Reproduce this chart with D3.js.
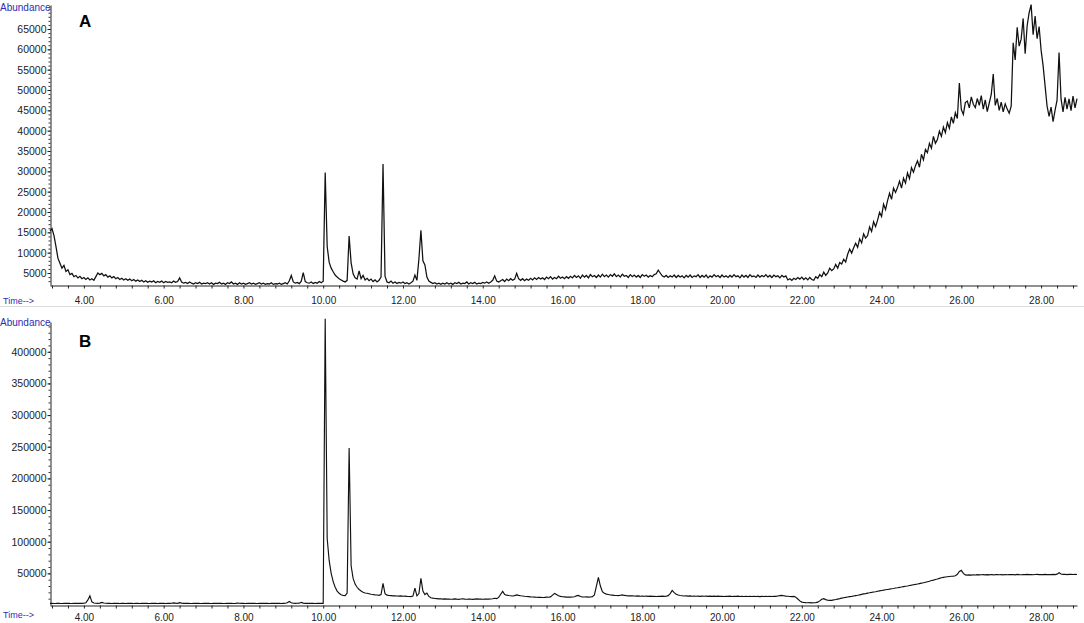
<!DOCTYPE html>
<html>
<head>
<meta charset="utf-8">
<script src="https://cdn.jsdelivr.net/npm/d3@7"></script>
<style>
  html, body { margin: 0; padding: 0; background: #fff; }
  svg { display: block; font-family: "Liberation Sans", Arial, sans-serif; }
</style>
</head>
<body>
<svg id="chart" width="1084" height="623"></svg>
<script>
// ---- Data (retention time in minutes, sampled every 0.05 min; abundance in thousands) ----
const timeStart = 3.15;
const timeStep = 0.05;

// Chromatogram A
const abundanceA_k = [
  15.3,15.9,14.2,11.5,8.6,7.4,6.2,6.9,5.4,5.8,4.6,4.9,4.1,4.4,3.8,4.2,3.6,3.9,3.4,3.8,
  3.3,3.6,3.2,4.1,5.0,4.6,4.9,4.3,4.6,4.0,4.3,3.8,4.1,3.6,3.9,3.4,3.7,3.3,3.6,3.2,
  3.5,3.1,3.4,3.0,3.3,2.9,3.2,2.8,3.1,2.7,3.0,2.8,3.1,2.6,2.9,2.7,3.0,2.6,2.9,2.7,
  2.8,2.6,3.0,2.7,2.9,3.8,2.8,2.5,2.7,2.4,2.8,2.5,2.3,2.6,2.4,2.7,2.3,2.5,2.4,2.6,
  2.3,2.6,2.2,2.5,2.4,2.7,2.3,2.5,2.2,2.6,2.4,2.8,2.3,2.5,2.2,2.6,2.3,2.5,2.2,2.4,
  2.6,2.3,2.5,2.2,2.4,2.6,2.3,2.5,2.2,2.4,2.3,2.6,2.2,2.4,2.3,2.5,2.2,2.4,2.6,2.3,
  3.1,4.4,2.8,2.5,2.7,2.4,3.0,5.1,2.9,2.6,2.5,2.8,2.4,2.7,2.5,2.9,2.6,3.0,29.7,11.5,
  7.6,6.2,5.3,4.5,4.0,3.6,3.3,3.0,2.8,3.2,14.1,7.5,4.8,3.8,3.5,5.5,3.6,4.4,3.3,3.7,
  3.1,3.5,2.9,3.3,2.8,3.2,4.0,31.8,4.2,2.8,2.6,3.0,2.5,2.8,2.4,2.7,2.5,2.8,2.4,2.6,
  2.3,2.6,3.0,4.5,3.2,8.5,15.5,8.0,7.0,4.0,3.0,2.7,2.4,2.6,2.3,2.5,2.2,2.5,2.3,2.6,
  2.3,2.5,2.2,2.6,2.4,2.7,2.3,2.5,2.4,2.8,2.3,2.6,2.4,2.7,2.3,2.5,2.4,2.7,2.5,2.8,
  2.5,2.8,3.2,4.3,3.0,2.8,3.1,3.4,2.9,3.5,3.1,3.6,3.2,3.5,4.9,3.6,3.2,3.6,3.1,3.5,
  3.2,3.7,3.3,3.8,3.4,3.9,3.5,3.8,3.4,4.0,3.6,4.1,3.5,3.9,3.6,4.2,3.7,4.0,3.6,4.1,
  3.7,4.2,3.8,4.4,3.9,4.3,3.7,4.5,4.0,4.4,3.8,4.6,4.1,4.4,3.9,4.5,4.0,4.7,4.1,4.5,
  4.0,4.6,4.2,4.8,4.1,4.5,4.0,4.7,4.2,4.4,3.9,4.6,4.1,4.5,4.0,4.4,3.9,4.6,4.2,4.5,
  4.0,4.4,4.1,4.6,4.8,5.7,5.0,4.3,4.0,4.4,3.9,4.3,4.0,4.5,3.9,4.4,4.0,4.3,3.8,4.4,
  4.0,4.5,3.9,4.3,4.1,4.6,3.9,4.4,4.0,4.5,3.8,4.3,4.0,4.6,4.1,4.4,3.9,4.5,4.0,4.3,
  3.9,4.4,4.0,4.6,4.1,4.3,3.8,4.5,4.0,4.4,3.9,4.6,4.1,4.3,3.9,4.5,4.0,4.4,4.1,4.6,
  4.0,4.4,3.9,4.5,4.1,4.3,3.8,4.4,4.0,4.3,3.3,3.6,3.2,3.7,3.4,3.9,3.5,4.0,3.4,3.8,
  3.3,3.9,3.4,3.2,4.1,3.7,4.6,4.1,5.2,4.4,5.0,6.2,5.6,6.0,7.1,6.2,7.6,7.2,8.4,7.7,
  9.6,10.9,9.9,11.2,12.3,11.3,13.4,12.4,14.6,13.6,14.2,16.3,15.2,17.6,16.4,18.0,19.9,18.9,21.9,20.6,
  22.8,24.6,23.1,25.9,24.8,26.0,27.6,25.9,28.3,27.1,29.6,28.2,30.9,29.8,31.4,32.6,31.0,34.2,32.8,35.4,
  34.6,36.9,35.7,38.6,36.9,37.8,39.9,38.6,40.9,39.5,42.0,40.6,43.4,41.8,44.4,43.0,51.7,45.2,44.0,46.9,
  47.3,45.6,48.3,46.5,45.7,47.9,46.2,48.6,45.3,47.6,44.7,46.8,48.9,53.9,46.2,47.9,45.0,47.0,44.6,46.6,
  45.3,44.3,46.0,61.6,57.4,65.4,60.8,62.5,67.6,58.9,65.8,69.0,71.0,63.6,68.2,62.6,65.6,59.8,56.0,51.0,
  46.0,43.5,45.8,42.2,45.0,47.5,59.2,47.8,44.6,48.2,45.3,47.8,44.9,48.5,45.6,47.9
];

// Chromatogram B
const abundanceB_k = [
  2.5,2.6,2.4,2.5,2.7,2.5,2.4,2.6,2.5,2.8,2.5,2.4,2.6,2.5,2.7,2.5,2.6,2.9,3.5,8.0,
  14.5,5.0,3.2,2.8,2.6,3.0,4.0,3.1,2.7,2.5,2.6,2.4,2.6,2.5,2.7,2.4,2.6,2.5,2.4,2.6,
  2.5,2.7,2.4,2.6,2.5,2.4,2.6,2.5,2.7,2.5,2.4,2.6,2.5,2.6,2.4,2.7,2.5,2.6,2.4,2.5,
  2.6,2.8,3.4,3.0,2.7,3.8,2.9,2.6,2.5,2.7,2.5,2.4,2.6,2.5,2.7,2.5,2.4,2.6,2.5,2.7,
  2.5,2.4,2.6,2.5,2.7,2.5,2.6,2.4,2.5,2.7,2.6,2.5,2.4,2.6,3.2,2.7,2.5,2.6,2.4,2.5,
  2.6,2.5,2.7,2.5,2.4,2.6,2.5,2.7,2.6,2.5,2.4,2.6,2.5,2.7,2.5,2.6,2.4,2.6,2.8,3.5,
  5.6,3.5,2.8,2.6,2.7,2.9,4.2,3.0,2.6,2.5,2.7,2.5,2.6,2.4,2.6,2.5,2.6,2.5,452,105,
  70,50,37,28,22,18.5,16.2,15.0,14.8,19.0,248,62,42,33,28,24.5,22,20,19,18.5,
  17.8,17.0,16.6,16.0,15.8,15.3,16.5,34.0,18.0,15.5,15.0,14.8,14.4,14.6,14.2,14.0,14.3,13.8,14.0,13.6,
  13.5,13.2,14.0,26.8,14.5,18.0,42.0,22.0,16.5,18.8,13.5,11.5,10.8,10.2,10.0,9.6,9.8,9.4,9.6,9.2,
  9.4,9.1,9.3,9.6,9.2,9.0,9.4,9.8,9.3,9.1,9.5,9.2,9.0,9.3,9.6,9.2,9.4,9.1,9.3,9.5,
  9.2,9.5,9.8,10.6,10.2,12.0,17.0,21.5,16.5,15.5,15.0,14.6,14.2,14.8,16.0,15.2,14.6,14.2,13.8,13.5,
  13.2,12.8,12.6,12.4,12.2,12.0,12.3,11.9,12.1,12.4,12.2,12.8,15.5,18.3,16.5,14.6,13.6,13.0,12.8,12.5,
  12.7,12.4,12.6,13.0,14.5,15.2,13.5,12.8,12.6,12.9,12.5,12.7,13.2,16.0,30.0,43.5,30.0,21.0,18.5,17.2,
  16.5,15.8,15.5,15.2,15.0,14.8,15.4,15.9,15.1,14.7,14.5,14.3,14.6,14.2,14.0,14.3,13.9,14.1,13.8,14.0,
  13.7,13.9,13.6,13.8,13.5,13.7,13.6,13.9,13.6,13.8,14.8,18.0,23.0,19.5,17.0,15.8,15.0,14.6,14.2,14.4,
  14.0,14.3,13.9,14.2,13.8,14.1,13.7,14.0,13.8,14.1,13.7,13.9,13.6,13.9,13.7,14.0,13.6,13.8,13.5,13.8,
  13.6,13.9,13.5,13.8,13.6,13.9,13.4,13.7,13.5,13.8,13.4,13.7,13.5,13.8,13.4,13.6,13.3,13.7,13.5,13.8,
  13.4,13.7,13.5,13.8,13.6,14.2,14.8,15.2,14.6,14.0,13.8,13.5,13.2,13.6,12.4,9.5,6.5,4.6,4.0,3.7,
  3.5,3.7,3.4,3.6,3.8,4.5,6.5,9.0,10.0,8.5,7.5,7.2,7.4,8.0,8.6,9.3,10.0,10.8,11.5,12.0,
  12.6,13.2,13.6,14.3,14.9,15.4,16.0,16.8,17.5,18.0,18.8,19.3,19.9,20.6,21.0,21.7,22.4,22.9,23.4,24.0,
  24.5,25.0,25.6,26.1,26.8,27.3,27.9,28.4,29.0,29.6,30.1,30.8,31.3,32.0,32.6,33.1,33.8,34.5,35.2,36.0,
  36.8,37.5,38.6,39.3,40.2,41.0,42.0,43.0,43.6,44.2,44.6,45.0,45.4,45.7,46.2,48.5,53.0,54.7,50.0,47.5,
  47.2,47.6,47.3,47.8,47.4,47.9,47.5,47.7,48.0,47.6,47.9,47.5,48.1,47.7,47.9,48.2,47.8,48.0,47.6,48.1,
  47.8,48.2,47.9,48.1,47.7,48.3,48.0,47.8,48.2,47.9,48.3,48.0,48.2,47.8,48.1,48.4,48.0,48.2,47.9,48.3,
  48.0,48.2,47.9,48.3,48.1,48.8,51.0,48.9,48.3,48.5,48.1,48.4,48.6,48.2,48.5,48.1
];

const yTicksA = [5000,10000,15000,20000,25000,30000,35000,40000,45000,50000,55000,60000,65000];
const yTicksB = [50000,100000,150000,200000,250000,300000,350000,400000];
const xLabelTimes = [4,6,8,10,12,14,16,18,20,22,24,26,28];
const panelLabels = ["A", "B"];

// ---- Drawing ----
const svg = d3.select("#chart");
const blue = "#2d2db4";

const x = d3.scaleLinear().domain([3.15, 28.9]).range([50, 1077]);

const panels = [
  { label: panelLabels[0], data: abundanceA_k, yDomain: [2050, 70900], yRange: [285, 5],
    ticks: yTicksA, minorStep: 1000, labelY: 27, abundY: 10.5, timeY: 303.5, lw: 1.25 },
  { label: panelLabels[1], data: abundanceB_k, yDomain: [0, 447000], yRange: [605, 322],
    ticks: yTicksB, minorStep: 10000, labelY: 346.5, abundY: 326, timeY: 617.5, lw: 1.15 }
];

// separator line between panels
svg.append("line").attr("x1", 0).attr("x2", 1084).attr("y1", 306.5).attr("y2", 306.5)
  .attr("stroke", "#dcdcdc").attr("stroke-width", 1);

const minorX = d3.range(8, 73).map(i => i * 0.4).filter(t => t >= 3.15 && t <= 28.9);

panels.forEach(p => {
  const y = d3.scaleLinear().domain(p.yDomain).range(p.yRange);
  const g = svg.append("g");
  const baseY = p.yRange[0];

  // minor y ticks
  const minorY = d3.range(p.yDomain[0] - (p.yDomain[0] % p.minorStep) + p.minorStep, p.yDomain[1], p.minorStep);
  g.append("g").attr("transform", "translate(50.5,0)")
    .call(d3.axisLeft(y).tickValues(minorY).tickSize(2).tickFormat("").tickSizeOuter(0))
    .call(a => a.select(".domain").remove())
    .call(a => a.selectAll("line").attr("stroke", "#333"));

  // major y axis
  g.append("g").attr("transform", "translate(50.5,0)")
    .call(d3.axisLeft(y).tickValues(p.ticks).tickSize(3).tickPadding(1).tickSizeOuter(0).tickFormat(d3.format("d")))
    .call(a => a.select(".domain").attr("stroke", "#222"))
    .call(a => a.selectAll("line").attr("stroke", "#222"))
    .call(a => a.selectAll("text").attr("font-size", "10.5px").attr("fill", "#222")
      .attr("font-family", "'Liberation Sans', Arial, sans-serif"));

  // x axis
  g.append("g").attr("transform", `translate(0,${baseY + 0.5})`)
    .call(d3.axisBottom(x).tickValues(minorX).tickSize(3).tickPadding(p.label === "A" ? 8.5 : 5).tickSizeOuter(0)
      .tickFormat(t => {
        const r = Math.round(t * 10) / 10;
        return xLabelTimes.includes(r) ? r.toFixed(2) : "";
      }))
    .call(a => a.select(".domain").attr("stroke", "#222"))
    .call(a => a.selectAll("line").attr("stroke", "#222"))
    .call(a => a.selectAll("text").attr("font-size", "10px").attr("fill", "#222")
      .attr("font-family", "'Liberation Sans', Arial, sans-serif"));

  // trace
  const pts = p.data.map((v, i) => [timeStart + i * timeStep, v * 1000]);
  const line = d3.line().x(d => x(d[0])).y(d => y(d[1]));
  g.append("path").datum(pts)
    .attr("d", line)
    .attr("fill", "none")
    .attr("stroke", "#111")
    .attr("stroke-width", p.lw)
    .attr("stroke-linejoin", "miter");

  // texts
  g.append("text").attr("x", 0).attr("y", p.abundY).text("Abundance")
    .attr("font-size", "10px").attr("fill", blue);
  g.append("text").attr("x", 3).attr("y", p.timeY).text("Time-->")
    .attr("font-size", "9px").attr("fill", blue);
  g.append("text").attr("x", 79).attr("y", p.labelY).text(p.label)
    .attr("font-size", "17px").attr("font-weight", "bold").attr("fill", "#000");
});
</script>
</body>
</html>
